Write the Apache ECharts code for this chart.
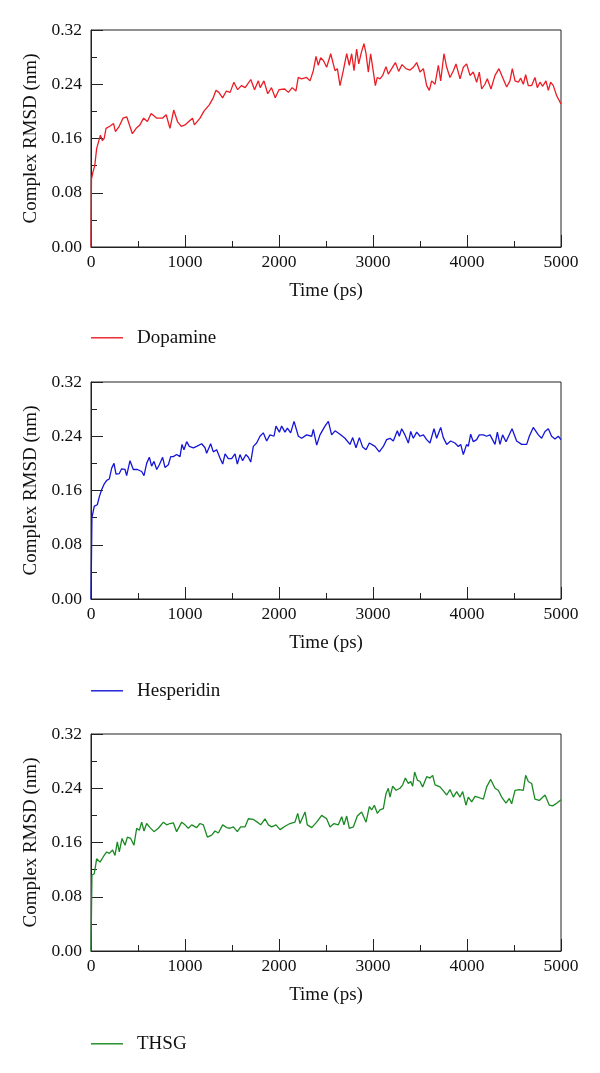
<!DOCTYPE html>
<html>
<head>
<meta charset="utf-8">
<script src="https://cdn.jsdelivr.net/npm/echarts@6/dist/echarts.min.js"></script>
<style>html,body{margin:0;padding:0;background:#fff}#c{width:600px;height:1073px}</style>
</head>
<body>
<div id="c"></div>
<script>
var xTicks = [0, 1000, 2000, 3000, 4000, 5000];
var yTicks = [0.00, 0.08, 0.16, 0.24, 0.32];
var seriesNames = ['Dopamine', 'Hesperidin', 'THSG'];

var dopamineTime = [0,5,20,40,60,80,100,120,140,160,200,240,260,300,340,380,400,440,480,520,560,600,640,700,760,800,840,880,920,960,1000,1040,1080,1100,1160,1200,1260,1300,1330,1360,1400,1440,1480,1520,1560,1600,1640,1700,1740,1780,1800,1840,1880,1920,1960,2000,2060,2100,2140,2180,2205,2240,2294,2330,2365,2394,2418,2443,2472,2507,2550,2596,2621,2649,2684,2720,2748,2773,2798,2826,2848,2876,2904,2926,2950,2975,3004,3025,3046,3074,3103,3138,3163,3199,3238,3273,3309,3351,3394,3429,3465,3500,3536,3571,3599,3624,3660,3695,3720,3755,3784,3819,3855,3883,3926,3961,3996,4032,4067,4103,4131,4156,4191,4216,4255,4298,4340,4379,4422,4457,4482,4511,4546,4571,4599,4624,4652,4688,4723,4748,4777,4805,4840,4865,4890,4918,4954,5000];
var dopamineRmsd = [0,0.10,0.11,0.12,0.145,0.155,0.165,0.157,0.16,0.175,0.178,0.182,0.17,0.178,0.19,0.192,0.19,0.167,0.175,0.18,0.19,0.185,0.197,0.19,0.19,0.195,0.175,0.202,0.185,0.178,0.18,0.185,0.19,0.18,0.19,0.2,0.21,0.22,0.231,0.228,0.22,0.23,0.228,0.243,0.232,0.238,0.235,0.247,0.232,0.245,0.235,0.245,0.226,0.235,0.22,0.232,0.233,0.228,0.235,0.23,0.25,0.248,0.25,0.245,0.26,0.281,0.268,0.279,0.275,0.265,0.285,0.26,0.263,0.238,0.26,0.285,0.268,0.285,0.26,0.292,0.27,0.287,0.30,0.285,0.258,0.285,0.258,0.238,0.25,0.248,0.253,0.266,0.255,0.263,0.272,0.259,0.269,0.263,0.261,0.265,0.272,0.258,0.263,0.238,0.231,0.245,0.24,0.268,0.245,0.285,0.265,0.25,0.26,0.27,0.248,0.265,0.27,0.253,0.258,0.243,0.258,0.233,0.24,0.248,0.233,0.253,0.263,0.25,0.236,0.245,0.263,0.245,0.243,0.249,0.24,0.254,0.238,0.238,0.25,0.235,0.243,0.237,0.245,0.231,0.243,0.238,0.223,0.211];

var hesperidinTime = [0,10,35,67,89,113,138,167,195,220,245,266,301,326,362,379,415,450,493,539,564,592,621,645,670,699,727,762,787,823,848,876,911,947,968,989,1018,1046,1089,1124,1177,1213,1230,1273,1301,1337,1372,1401,1426,1461,1496,1532,1557,1585,1613,1649,1674,1699,1727,1762,1798,1833,1869,1904,1947,1968,2004,2028,2064,2089,2124,2160,2206,2241,2294,2348,2365,2401,2436,2489,2525,2560,2596,2649,2702,2755,2784,2819,2855,2890,2926,2961,3021,3067,3110,3145,3181,3216,3259,3280,3305,3340,3376,3401,3429,3465,3500,3536,3571,3606,3649,3677,3720,3748,3784,3826,3872,3908,3933,3961,3996,4014,4039,4067,4103,4131,4174,4209,4245,4298,4323,4351,4379,4415,4479,4528,4582,4635,4663,4705,4759,4794,4830,4865,4900,4936,4971,5000];
var hesperidinRmsd = [0,0.12,0.137,0.139,0.151,0.161,0.169,0.175,0.177,0.193,0.20,0.184,0.185,0.192,0.191,0.182,0.204,0.191,0.191,0.188,0.182,0.20,0.209,0.196,0.203,0.191,0.198,0.209,0.194,0.198,0.21,0.21,0.213,0.21,0.228,0.22,0.232,0.225,0.223,0.225,0.229,0.223,0.215,0.229,0.217,0.22,0.208,0.199,0.214,0.207,0.207,0.214,0.199,0.213,0.204,0.213,0.209,0.202,0.225,0.23,0.24,0.245,0.233,0.242,0.24,0.255,0.246,0.255,0.246,0.252,0.245,0.262,0.24,0.237,0.242,0.24,0.25,0.227,0.242,0.255,0.262,0.242,0.248,0.243,0.237,0.228,0.238,0.223,0.238,0.224,0.22,0.23,0.225,0.217,0.225,0.235,0.237,0.233,0.248,0.24,0.251,0.242,0.23,0.247,0.237,0.246,0.24,0.242,0.235,0.23,0.251,0.237,0.253,0.238,0.228,0.233,0.23,0.225,0.228,0.213,0.228,0.225,0.243,0.232,0.235,0.242,0.242,0.24,0.242,0.228,0.246,0.228,0.242,0.232,0.251,0.233,0.228,0.228,0.24,0.253,0.242,0.237,0.247,0.251,0.24,0.236,0.24,0.235];

var thsgTime = [0,10,35,60,96,131,167,195,230,255,280,301,330,362,387,422,457,486,514,539,564,592,628,670,716,770,805,840,876,911,965,1000,1035,1071,1124,1160,1195,1238,1284,1319,1355,1401,1443,1479,1514,1557,1592,1638,1674,1727,1770,1805,1851,1887,1922,1968,2011,2064,2117,2170,2199,2223,2277,2301,2348,2401,2454,2507,2543,2585,2631,2667,2691,2720,2748,2791,2833,2879,2926,2961,2986,3014,3046,3074,3110,3138,3163,3181,3209,3245,3287,3316,3344,3376,3401,3422,3443,3472,3500,3528,3571,3606,3635,3660,3713,3755,3784,3819,3855,3890,3926,3954,3989,4014,4050,4085,4131,4174,4209,4252,4298,4333,4369,4415,4450,4475,4511,4557,4599,4624,4652,4688,4723,4769,4830,4876,4911,4954,5000];
var thsgRmsd = [0,0.112,0.114,0.136,0.131,0.139,0.146,0.144,0.149,0.141,0.161,0.146,0.166,0.156,0.168,0.166,0.156,0.181,0.178,0.19,0.177,0.188,0.182,0.176,0.181,0.19,0.186,0.188,0.189,0.176,0.19,0.186,0.181,0.186,0.182,0.188,0.186,0.168,0.171,0.177,0.174,0.186,0.182,0.181,0.183,0.176,0.183,0.183,0.195,0.194,0.19,0.186,0.195,0.186,0.183,0.186,0.179,0.184,0.188,0.19,0.203,0.188,0.205,0.186,0.182,0.19,0.2,0.195,0.183,0.188,0.186,0.198,0.186,0.199,0.181,0.183,0.199,0.205,0.19,0.213,0.208,0.215,0.203,0.208,0.21,0.232,0.24,0.227,0.243,0.237,0.24,0.245,0.255,0.247,0.25,0.243,0.264,0.252,0.25,0.242,0.257,0.255,0.259,0.245,0.242,0.235,0.23,0.238,0.227,0.235,0.227,0.235,0.215,0.227,0.22,0.228,0.226,0.224,0.242,0.253,0.24,0.237,0.227,0.218,0.225,0.217,0.237,0.238,0.237,0.259,0.25,0.247,0.224,0.222,0.23,0.215,0.214,0.218,0.223];

function pairs(t, v) { return t.map(function (x, i) { return [x, v[i]]; }); }
var allData = [pairs(dopamineTime, dopamineRmsd), pairs(hesperidinTime, hesperidinRmsd), pairs(thsgTime, thsgRmsd)];
var colors = ['#ec1c24', '#1515d8', '#1a8a22'];
var FONT = 'Liberation Serif';
var tops = [30, 382, 734];
var legendTops = [328.3, 681.3, 1034.3];

var grids = [], xAxes = [], yAxes = [], series = [], legends = [];
for (var i = 0; i < 3; i++) {
  grids.push({left: 91, width: 470, top: tops[i], height: 217, show: true, borderColor: '#222', borderWidth: 1, backgroundColor: 'transparent'});
  xAxes.push({
    type: 'value', gridIndex: i, min: xTicks[0], max: xTicks[xTicks.length - 1], interval: 1000,
    name: 'Time (ps)', nameLocation: 'middle', nameGap: 35,
    nameTextStyle: {fontFamily: FONT, fontSize: 19, color: '#111'},
    axisLine: {show: true, onZero: false, lineStyle: {color: '#222', width: 1}},
    axisTick: {show: true, inside: true, length: 12, lineStyle: {color: '#222', width: 1}},
    minorTick: {show: true, splitNumber: 2, length: 6, lineStyle: {color: '#222', width: 1}},
    axisLabel: {fontFamily: FONT, fontSize: 17.5, color: '#111', margin: 6, formatter: function (v) { return String(v); }},
    splitLine: {show: false}
  });
  yAxes.push({
    type: 'value', gridIndex: i, min: yTicks[0], max: yTicks[yTicks.length - 1], interval: 0.08,
    name: 'Complex RMSD (nm)', nameLocation: 'middle', nameGap: 48,
    nameTextStyle: {fontFamily: FONT, fontSize: 19, color: '#111'},
    axisLine: {show: true, lineStyle: {color: '#222', width: 1}},
    axisTick: {show: true, inside: true, length: 12, lineStyle: {color: '#222', width: 1}},
    minorTick: {show: true, splitNumber: 2, length: 6, lineStyle: {color: '#222', width: 1}},
    axisLabel: {fontFamily: FONT, fontSize: 17.5, color: '#111', margin: 9, formatter: function (v) { return v.toFixed(2); }},
    splitLine: {show: false}
  });
  series.push({
    name: seriesNames[i], type: 'line', xAxisIndex: i, yAxisIndex: i,
    data: allData[i], symbol: 'none', showSymbol: false,
    lineStyle: {color: colors[i], width: 1.3}, itemStyle: {color: colors[i]},
    animation: false
  });
  legends.push({
    data: [seriesNames[i]], left: 91, top: legendTops[i], padding: 0,
    icon: 'rect', itemWidth: 32, itemHeight: 1.4,
    itemStyle: {color: colors[i], borderWidth: 0},
    textStyle: {fontFamily: FONT, fontSize: 19, color: '#111', padding: [0, 0, 0, 9]},
    selectedMode: false
  });
}

var chart = echarts.init(document.getElementById('c'), null, {renderer: 'canvas'});
chart.setOption({
  animation: false,
  backgroundColor: '#fff',
  grid: grids, xAxis: xAxes, yAxis: yAxes, series: series, legend: legends
});
</script>
</body>
</html>
